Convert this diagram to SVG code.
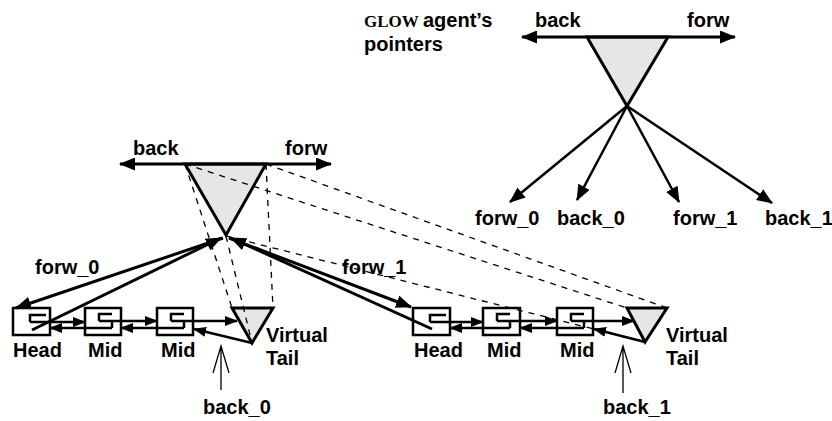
<svg xmlns="http://www.w3.org/2000/svg" width="832" height="421" viewBox="0 0 832 421">
<defs>
<style>
.t{font-family:"Liberation Sans",Arial,sans-serif;font-weight:bold;font-size:20px;fill:#000}
.s{font-family:"Liberation Serif","Times New Roman",serif;font-weight:bold;font-size:17px;fill:#000}
.tri{fill:#e6e6e6;stroke:#000;stroke-width:3;stroke-linejoin:miter}
.box{fill:#fff;stroke:#000;stroke-width:2.5}
.ln{fill:none;stroke:#000;stroke-width:2.5}
.thick{fill:none;stroke:#000;stroke-width:3}
.dash{fill:none;stroke:#000;stroke-width:1.3;stroke-dasharray:6,6}
.thin{fill:none;stroke:#000;stroke-width:1.3}
</style>
<marker id="ah" markerWidth="16" markerHeight="13" refX="15" refY="6.5" orient="auto-start-reverse" markerUnits="userSpaceOnUse"><path d="M0,0 L16,6.5 L0,13 z" fill="#000"/></marker>
<marker id="as" markerWidth="13" markerHeight="10" refX="12" refY="5" orient="auto" markerUnits="userSpaceOnUse"><path d="M0,0 L13,5 L0,10 z" fill="#000"/></marker>
</defs>

<g id="legend-title">
<text class="s" x="364" y="27">GLOW</text>
<text class="t" x="423" y="27">agent’s</text>
<text class="t" x="364" y="51">pointers</text>
</g>

<g id="legend-agent">
<polygon class="tri" points="587,37 668,37 627,106"/>
<line class="thick" x1="522" y1="37" x2="735" y2="37" marker-start="url(#ah)" marker-end="url(#ah)"/>
<text class="t" x="535" y="27">back</text>
<text class="t" x="687" y="27">forw</text>
</g>

<g id="legend-labels">
<text class="t" x="475" y="225">forw_0</text>
<text class="t" x="557" y="225">back_0</text>
<text class="t" x="673" y="225">forw_1</text>
<text class="t" x="765" y="225">back_1</text>
</g>

<g id="agent">
<polygon class="tri" points="185,164 266,164 226,235"/>
<line class="thick" x1="120" y1="164" x2="331" y2="164" marker-start="url(#ah)" marker-end="url(#ah)"/>
<text class="t" x="133" y="155">back</text>
<text class="t" x="285" y="155">forw</text>
</g>

<g id="list0-head"><rect class="box" x="13" y="308" width="37" height="27"/><path class="ln" d="M46,315 H30 V322"/><text class="t" x="13" y="357">Head</text></g>
<g id="list0-mid1"><rect class="box" x="85" y="308" width="36" height="27"/><path class="ln" d="M112,314 H99 V321 M112,321 V328"/><text class="t" x="88" y="357">Mid</text></g>
<g id="list0-mid2"><rect class="box" x="157" y="308" width="36" height="27"/><path class="ln" d="M184,314 H171 V321 M184,321 V328"/><text class="t" x="161" y="357">Mid</text></g>
<g id="list0-tail"><polygon class="tri" points="232,308 273,308 252,343"/><text class="t" x="266" y="342">Virtual</text><text class="t" x="266" y="365">Tail</text></g>

<g id="list1-head"><rect class="box" x="413" y="308" width="37" height="27"/><path class="ln" d="M446,315 H430 V322"/><text class="t" x="414" y="357">Head</text></g>
<g id="list1-mid1"><rect class="box" x="483" y="308" width="37" height="27"/><path class="ln" d="M510,314 H497 V321 M510,321 V328"/><text class="t" x="487" y="357">Mid</text></g>
<g id="list1-mid2"><rect class="box" x="557" y="308" width="36" height="27"/><path class="ln" d="M584,314 H571 V321 M584,321 V328"/><text class="t" x="560" y="357">Mid</text></g>
<g id="list1-tail"><polygon class="tri" points="627,308 667,308 645,342"/><text class="t" x="666" y="342">Virtual</text><text class="t" x="666" y="365">Tail</text></g>

<g id="back0-label"><text class="t" x="203" y="414">back_0</text></g>
<g id="back1-label"><text class="t" x="603" y="414">back_1</text></g>
<g id="forw-labels">
<text class="t" x="35" y="274">forw_0</text>
<text class="t" x="342" y="274">forw_1</text>
</g>

<g id="connectors">
<line class="ln" x1="627" y1="106" x2="510" y2="202" marker-end="url(#ah)"/>
<line class="ln" x1="627" y1="106" x2="577" y2="200" marker-end="url(#ah)"/>
<line class="ln" x1="627" y1="106" x2="679" y2="202" marker-end="url(#ah)"/>
<line class="ln" x1="627" y1="106" x2="772" y2="203" marker-end="url(#ah)"/>
<line class="dash" x1="185" y1="164" x2="232" y2="308"/>
<line class="dash" x1="226" y1="236" x2="252" y2="343"/>
<line class="dash" x1="266" y1="164" x2="273" y2="308"/>
<line class="dash" x1="185" y1="164" x2="627" y2="308"/>
<line class="dash" x1="266" y1="164" x2="667" y2="308"/>
<line class="dash" x1="226" y1="236" x2="645" y2="342"/>
<line class="thick" x1="223" y1="238" x2="16" y2="308" marker-end="url(#ah)"/>
<line class="thick" x1="32" y1="330" x2="221" y2="238" marker-end="url(#ah)"/>
<line class="thick" x1="229" y1="238" x2="411" y2="307" marker-end="url(#ah)"/>
<line class="thick" x1="432" y1="329" x2="231" y2="238" marker-end="url(#ah)"/>
<line class="ln" x1="30" y1="322" x2="85" y2="322" marker-end="url(#as)"/>
<line class="ln" x1="112" y1="328" x2="50" y2="328" marker-end="url(#as)"/>
<line class="ln" x1="99" y1="321" x2="157" y2="321" marker-end="url(#as)"/>
<line class="ln" x1="184" y1="328" x2="121" y2="328" marker-end="url(#as)"/>
<line class="ln" x1="171" y1="321" x2="237" y2="321" marker-end="url(#as)"/>
<line class="ln" x1="252" y1="343" x2="194" y2="329" marker-end="url(#as)"/>
<line class="ln" x1="430" y1="322" x2="483" y2="322" marker-end="url(#as)"/>
<line class="ln" x1="510" y1="328" x2="450" y2="328" marker-end="url(#as)"/>
<line class="ln" x1="497" y1="321" x2="557" y2="321" marker-end="url(#as)"/>
<line class="ln" x1="584" y1="328" x2="520" y2="328" marker-end="url(#as)"/>
<line class="ln" x1="571" y1="321" x2="634" y2="321" marker-end="url(#as)"/>
<line class="ln" x1="645" y1="342" x2="594" y2="329" marker-end="url(#as)"/>
<path class="thin" d="M221,390 V346 M213,373 L221,346 L229,373"/>
<path class="thin" d="M623,393 V346 M615,373 L623,346 L631,373"/>
</g>
</svg>
